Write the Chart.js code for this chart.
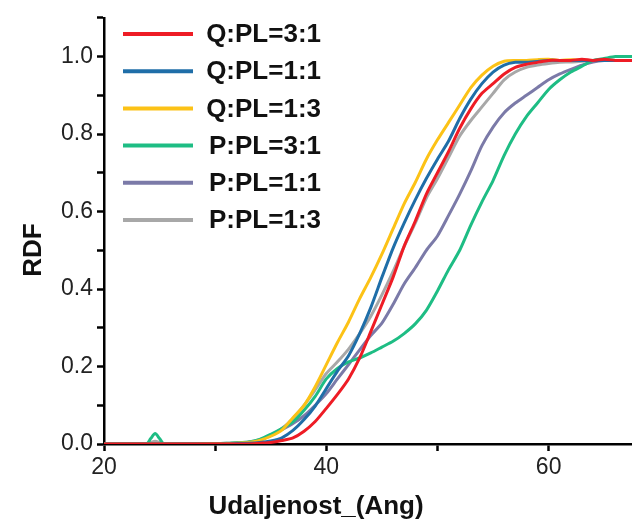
<!DOCTYPE html>
<html><head><meta charset="utf-8">
<style>html,body{margin:0;padding:0;background:#fff}#wrap{width:632px;height:524px;position:relative}</style>
<script src="https://cdn.jsdelivr.net/npm/chart.js@4/dist/chart.umd.min.js"></script>
</head><body><div id="wrap"><canvas id="c" width="632" height="524"></canvas></div>
<script>
const distance = [20,23.8,24.2,24.6,25.0,25.4,28,30,31,32,33,34,35,36,37,38,39,40,41,42,43,44,45,46,47,48,49,50,51,52,53,54,55,56,57,58,59,60,61,62,63,64,65,66,67,67.5];
const qpl31 = [0,0,0,0,0,0,0,0,0,0,0,0.002,0.004,0.009,0.016,0.033,0.058,0.092,0.128,0.168,0.222,0.29,0.36,0.43,0.51,0.575,0.645,0.70,0.755,0.815,0.865,0.905,0.93,0.955,0.972,0.98,0.985,0.99,0.99,0.99,0.993,0.99,0.993,0.99,0.99,0.99];
const qpl11 = [0,0,0,0,0,0,0,0,0,0.001,0.002,0.004,0.008,0.016,0.035,0.063,0.098,0.143,0.188,0.228,0.285,0.352,0.43,0.505,0.57,0.63,0.685,0.735,0.782,0.84,0.89,0.93,0.96,0.978,0.985,0.985,0.987,0.99,0.99,0.99,0.99,0.99,0.99,0.99,0.99,0.99];
const qpl13 = [0,0,0,0,0,0,0,0.001,0.001,0.002,0.004,0.009,0.02,0.036,0.068,0.10,0.148,0.205,0.262,0.315,0.375,0.43,0.49,0.555,0.62,0.675,0.735,0.785,0.83,0.875,0.92,0.952,0.975,0.988,0.99,0.99,0.992,0.993,0.99,0.992,0.99,0.99,0.99,0.99,0.99,0.99];
const ppl31 = [0,0,0.014,0.027,0.014,0,0,0.001,0.002,0.003,0.005,0.012,0.025,0.04,0.057,0.087,0.123,0.168,0.195,0.212,0.222,0.235,0.25,0.265,0.285,0.31,0.345,0.395,0.45,0.50,0.565,0.625,0.68,0.745,0.80,0.845,0.88,0.915,0.94,0.96,0.975,0.99,0.995,1.0,1.0,1.0];
const ppl11 = [0,0,0,0,0,0,0,0,0.001,0.002,0.004,0.01,0.022,0.037,0.053,0.073,0.1,0.13,0.168,0.205,0.243,0.28,0.312,0.36,0.413,0.455,0.5,0.537,0.59,0.645,0.705,0.77,0.818,0.855,0.88,0.9,0.92,0.94,0.955,0.967,0.978,0.986,0.99,0.99,0.99,0.99];
const ppl13 = [0,0,0.004,0.007,0.004,0,0,0.001,0.002,0.003,0.005,0.011,0.022,0.04,0.066,0.1,0.14,0.182,0.212,0.245,0.285,0.33,0.385,0.445,0.51,0.57,0.635,0.685,0.74,0.795,0.835,0.87,0.905,0.94,0.96,0.972,0.978,0.982,0.985,0.986,0.988,0.99,0.99,0.99,0.99,0.99];
const seriesLabels = ['Q:PL=3:1','Q:PL=1:1','Q:PL=1:3','P:PL=3:1','P:PL=1:1','P:PL=1:3'];
const seriesValues = [qpl31,qpl11,qpl13,ppl31,ppl11,ppl13];
const seriesColors = ['#ee1c25','#1f6ea8','#fcc216','#1ebd84','#7b7aa8','#a8a8a8'];
const xTickLabels = {20:'20',40:'40',60:'60'};
const yTickLabels = ['0.0','0.2','0.4','0.6','0.8','1.0'];
const xTitle = 'Udaljenost_(Ang)';
const yTitle = 'RDF';

const FONT = '"Liberation Sans", Arial, sans-serif';

const overlay = {
  id: 'overlay',
  afterDraw(chart) {
    const ctx = chart.ctx;
    ctx.save();
    ctx.fillStyle = '#111';
    ctx.font = 'bold 26px ' + FONT;
    ctx.textAlign = 'center';
    ctx.textBaseline = 'alphabetic';
    ctx.fillText(xTitle, 316, 514);
    ctx.translate(41, 250);
    ctx.rotate(-Math.PI / 2);
    ctx.fillText(yTitle, 0, 0);
    ctx.restore();
    // legend
    ctx.save();
    const rowH = 37.2, y0 = 34;
    chart.data.datasets.forEach((ds, i) => {
      const y = y0 + i * rowH;
      ctx.strokeStyle = ds.borderColor;
      ctx.lineWidth = 4;
      ctx.beginPath();
      ctx.moveTo(123, y);
      ctx.lineTo(193, y);
      ctx.stroke();
      ctx.fillStyle = '#111';
      ctx.font = 'bold 26px ' + FONT;
      ctx.textAlign = 'right';
      ctx.textBaseline = 'middle';
      ctx.fillText(ds.label, 321, y + 1);
    });
    ctx.restore();
  }
};

new Chart(document.getElementById('c'), {
  type: 'line',
  data: {
    datasets: seriesValues.map((vals, i) => ({
      label: seriesLabels[i],
      data: distance.map((x, j) => ({x: x, y: vals[j]})),
      borderColor: seriesColors[i],
      borderWidth: 3,
      pointRadius: 0,
      tension: 0.25,
      fill: false
    }))
  },
  options: {
    responsive: false,
    animation: false,
    layout: {padding: {top: 15, right: 0, left: 0, bottom: 0}},
    plugins: {legend: {display: false}, tooltip: {enabled: false}},
    scales: {
      x: {
        type: 'linear', min: 20, max: 67.5,
        border: {color: '#000', width: 2.5},
        grid: {drawOnChartArea: false, tickLength: 7, tickColor: '#000', tickWidth: 2.5},
        ticks: {stepSize: 10, includeBounds: false, autoSkip: false, maxRotation: 0, padding: 3,
          font: {family: FONT, size: 23}, color: '#222',
          callback: v => xTickLabels[v] ?? ''},
        afterFit: s => { s.height = 80; }
      },
      y: {
        type: 'linear', min: 0, max: 1.1,
        border: {color: '#000', width: 2.5},
        grid: {drawOnChartArea: false, tickLength: 7, tickColor: '#000', tickWidth: 2.5},
        ticks: {stepSize: 0.1, includeBounds: false, autoSkip: false, padding: 4,
          font: {family: FONT, size: 23}, color: '#222',
          callback: v => { const k = Math.round(v * 10); return (k % 2 === 0 && k <= 10) ? yTickLabels[k / 2] : ''; }},
        afterFit: s => { s.width = 104; }
      }
    }
  },
  plugins: [overlay]
});
</script></body></html>
